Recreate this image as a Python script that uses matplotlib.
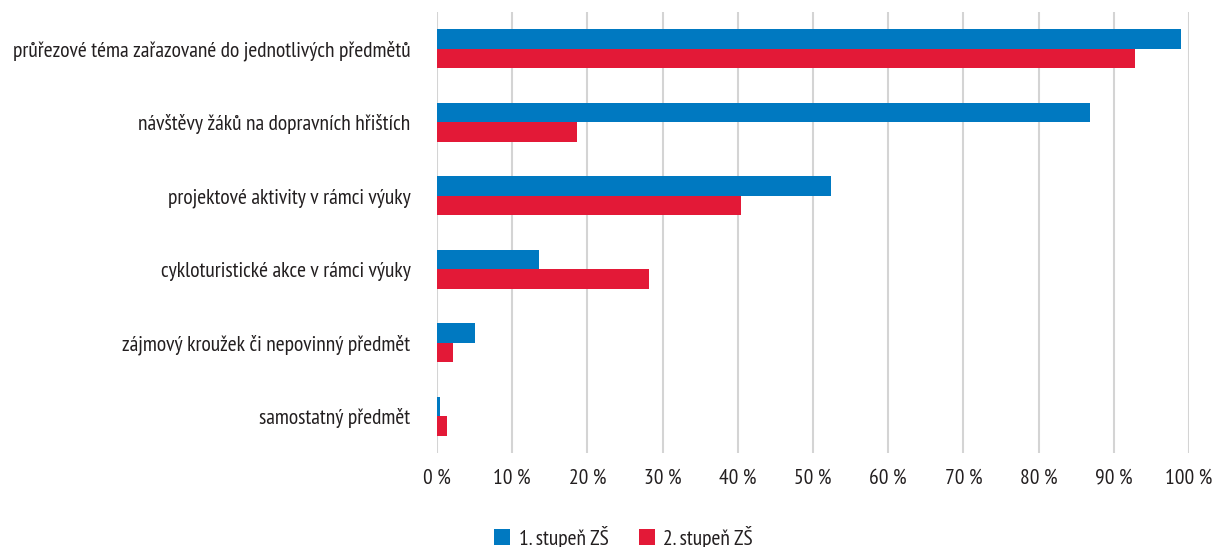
import numpy as np
import matplotlib
matplotlib.use("Agg")
import matplotlib.pyplot as plt
from matplotlib.ticker import FuncFormatter

# data (shares of schools, %)
categories = [
    "průřezové téma zařazované do jednotlivých předmětů",
    "návštěvy žáků na dopravních hřištích",
    "projektové aktivity v rámci výuky",
    "cykloturistické akce v rámci výuky",
    "zájmový kroužek či nepovinný předmět",
    "samostatný předmět",
]
stupen1 = [98.9, 86.8, 52.4, 13.5, 5.0, 0.4]
stupen2 = [92.8, 18.6, 40.4, 28.2, 2.1, 1.3]
series_names = ["1. stupeň ZŠ", "2. stupeň ZŠ"]
x_ticks = list(range(0, 101, 10))

BLUE = "#0079C1"
RED = "#E31937"
TEXT = "#231f20"

plt.rcParams["font.family"] = ["PT Sans Narrow", "DejaVu Sans"]

fig = plt.figure(figsize=(12.13, 5.47), dpi=100)
ax = fig.add_axes([437 / 1213, 1 - 453 / 547, (1189 - 437) / 1213, (453 - 12) / 547])

y = np.arange(len(categories))
h = 0.265
ax.barh(y - h / 2, stupen1, height=h, color=BLUE, label=series_names[0], zorder=3)
ax.barh(y + h / 2, stupen2, height=h, color=RED, label=series_names[1], zorder=3)

ax.set_xlim(0, 100)
ax.set_ylim(len(categories) - 0.5, -0.5)
ax.set_xticks(x_ticks)
ax.xaxis.set_major_formatter(FuncFormatter(lambda v, p: f"{v:.0f} %"))
ax.set_yticks(y)
ax.set_yticklabels(categories)

ax.grid(axis="x", color="#d4d4d4", linewidth=1.5, zorder=0)
for s in ax.spines.values():
    s.set_visible(False)
ax.tick_params(axis="both", length=0, labelsize=15.5, colors=TEXT)
ax.tick_params(axis="x", pad=11)
ax.tick_params(axis="y", pad=19)

ax.legend(loc="upper center", bbox_to_anchor=(0.248, -0.165), ncol=2, frameon=False,
          fontsize=15.5, handlelength=0.75, handleheight=0.75, handletextpad=0.4,
          columnspacing=1.4, labelcolor=TEXT, borderpad=0, borderaxespad=0)

fig.savefig("out.png", dpi=100)
